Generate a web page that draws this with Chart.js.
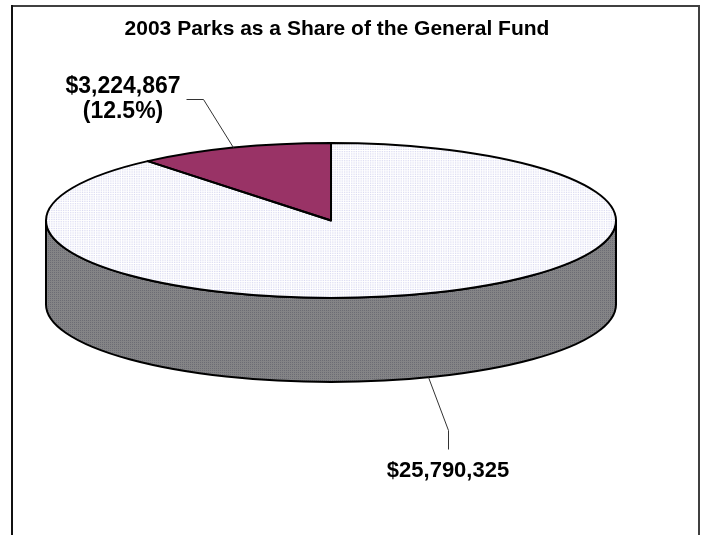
<!DOCTYPE html>
<html>
<head>
    <title>2003 Parks as a Share of the General Fund</title>
    <script src="https://cdn.jsdelivr.net/npm/chart.js"></script>
    <style>
        body { margin: 0; background: #fff; }
        #pieChart { display: block; }
    </style>
</head>
<body>
    <canvas id="pieChart" width="706" height="535"></canvas>

    <script>
        var categories = ['General Fund', 'Parks'];
        var amounts = [25790325, 3224867];
        var chartTitle = '2003 Parks as a Share of the General Fund';

        // ellipse the flat pie gets squashed into, plus the height of the rim
        var pie = { cx: 331, cy: 220.5, rx: 285, ry: 77.5, depth: 84 };

        // leader bend / leader end / first text baseline / font size for each slice label
        var labelSpots = [
            { bend: [448, 430], end: [448, 449], text: [448, 477], size: 22, lead: 25 },
            { bend: [203, 99], end: [186, 99], text: [123, 93], size: 23, lead: 25 }
        ];

        var fontFamily = '"Liberation Sans", Arial, Helvetica, sans-serif';

        function makePattern(base, dot) {
            var c = document.createElement('canvas');
            c.width = 2; c.height = 2;
            var g = c.getContext('2d');
            g.fillStyle = base;
            g.fillRect(0, 0, 2, 2);
            g.fillStyle = dot;
            g.fillRect(0, 0, 1, 1);
            return g.createPattern(c, 'repeat');
        }

        function money(v) {
            return '$' + v.toLocaleString('en-US');
        }

        var share = (amounts[1] / amounts[0] * 100).toFixed(1);
        var labelLines = [
            [money(amounts[0])],
            [money(amounts[1]), '(' + share + '%)']
        ];

        var topFills = [makePattern('#ffffff', '#d6d6f0'), '#993366'];
        var rimFills = [makePattern('#848486', '#6c6c74'), '#4d1a33'];

        function arcProps(arc) {
            return arc.getProps(['x', 'y', 'startAngle', 'endAngle', 'outerRadius']);
        }

        var tiltPlugin = {
            id: 'tilt',
            beforeDraw: function(chart) {
                var ctx = chart.ctx;
                ctx.save();
                ctx.fillStyle = '#fff';
                ctx.fillRect(0, 0, chart.width, chart.height);
                ctx.fillStyle = '#404040';
                ctx.fillRect(11, 5, 689, 2);
                ctx.fillRect(698, 5, 2, chart.height - 5);
                ctx.fillStyle = '#111';
                ctx.fillRect(11, 5, 2, chart.height - 5);
                ctx.restore();
            },
            beforeDatasetsDraw: function(chart) {
                var ctx = chart.ctx;
                var arcs = chart.getDatasetMeta(0).data;
                // rim: only the front half (0..PI) is visible
                arcs.forEach(function(arc, i) {
                    var p = arcProps(arc);
                    [-2 * Math.PI, 0, 2 * Math.PI].forEach(function(k) {
                        var lo = Math.max(p.startAngle, k);
                        var hi = Math.min(p.endAngle, k + Math.PI);
                        if (hi <= lo) return;
                        ctx.save();
                        ctx.beginPath();
                        ctx.ellipse(pie.cx, pie.cy, pie.rx, pie.ry, 0, lo, hi);
                        ctx.ellipse(pie.cx, pie.cy + pie.depth, pie.rx, pie.ry, 0, hi, lo, true);
                        ctx.closePath();
                        ctx.fillStyle = rimFills[i];
                        ctx.fill();
                        ctx.lineWidth = 2;
                        ctx.lineJoin = 'round';
                        ctx.strokeStyle = '#000';
                        ctx.stroke();
                        ctx.restore();
                    });
                });
                // squash the library's round pie onto the top ellipse
                var a = arcProps(arcs[0]);
                ctx.save();
                ctx.translate(pie.cx, pie.cy);
                ctx.scale(pie.rx / a.outerRadius, pie.ry / a.outerRadius);
                ctx.translate(-a.x, -a.y);
            },
            afterDatasetsDraw: function(chart) {
                var ctx = chart.ctx;
                ctx.restore();
                var arcs = chart.getDatasetMeta(0).data;
                arcs.forEach(function(arc) {
                    var p = arcProps(arc);
                    ctx.save();
                    ctx.beginPath();
                    ctx.moveTo(pie.cx, pie.cy);
                    ctx.ellipse(pie.cx, pie.cy, pie.rx, pie.ry, 0, p.startAngle, p.endAngle);
                    ctx.closePath();
                    ctx.lineWidth = 2;
                    ctx.lineJoin = 'round';
                    ctx.strokeStyle = '#000';
                    ctx.stroke();
                    ctx.restore();
                });
            },
            afterDraw: function(chart) {
                var ctx = chart.ctx;
                var arcs = chart.getDatasetMeta(0).data;
                ctx.save();
                arcs.forEach(function(arc, i) {
                    var p = arcProps(arc);
                    var m = (p.startAngle + p.endAngle) / 2;
                    var ax = pie.cx + pie.rx * Math.cos(m);
                    var ay = pie.cy + pie.ry * Math.sin(m) + (Math.sin(m) > 0 ? pie.depth : 0);
                    var spot = labelSpots[i];

                    ctx.beginPath();
                    ctx.moveTo(ax, ay);
                    ctx.lineTo(spot.bend[0] + 0.5, spot.bend[1] + 0.5);
                    ctx.lineTo(spot.end[0] + 0.5, spot.end[1] + 0.5);
                    ctx.lineWidth = 1;
                    ctx.strokeStyle = '#333';
                    ctx.stroke();

                    ctx.font = 'bold ' + spot.size + 'px ' + fontFamily;
                    ctx.fillStyle = '#000';
                    ctx.textAlign = 'center';
                    ctx.textBaseline = 'alphabetic';
                    labelLines[i].forEach(function(line, j) {
                        ctx.fillText(line, spot.text[0], spot.text[1] + j * spot.lead);
                    });
                });
                ctx.restore();
            }
        };

        var ctx = document.getElementById('pieChart').getContext('2d');
        var myChart = new Chart(ctx, {
            type: 'pie',
            data: {
                labels: categories,
                datasets: [{
                    data: amounts,
                    backgroundColor: topFills,
                    borderWidth: 0,
                    clip: false
                }]
            },
            options: {
                responsive: false,
                animation: false,
                events: [],
                layout: {
                    padding: { top: 6, left: 0, right: 32, bottom: 0 }
                },
                plugins: {
                    legend: { display: false },
                    tooltip: { enabled: false },
                    title: {
                        display: true,
                        text: chartTitle,
                        color: '#000',
                        font: { family: fontFamily, size: 21, weight: 'bold' },
                        padding: { top: 11, bottom: 10 }
                    }
                }
            },
            plugins: [tiltPlugin]
        });
    </script>
</body>
</html>
